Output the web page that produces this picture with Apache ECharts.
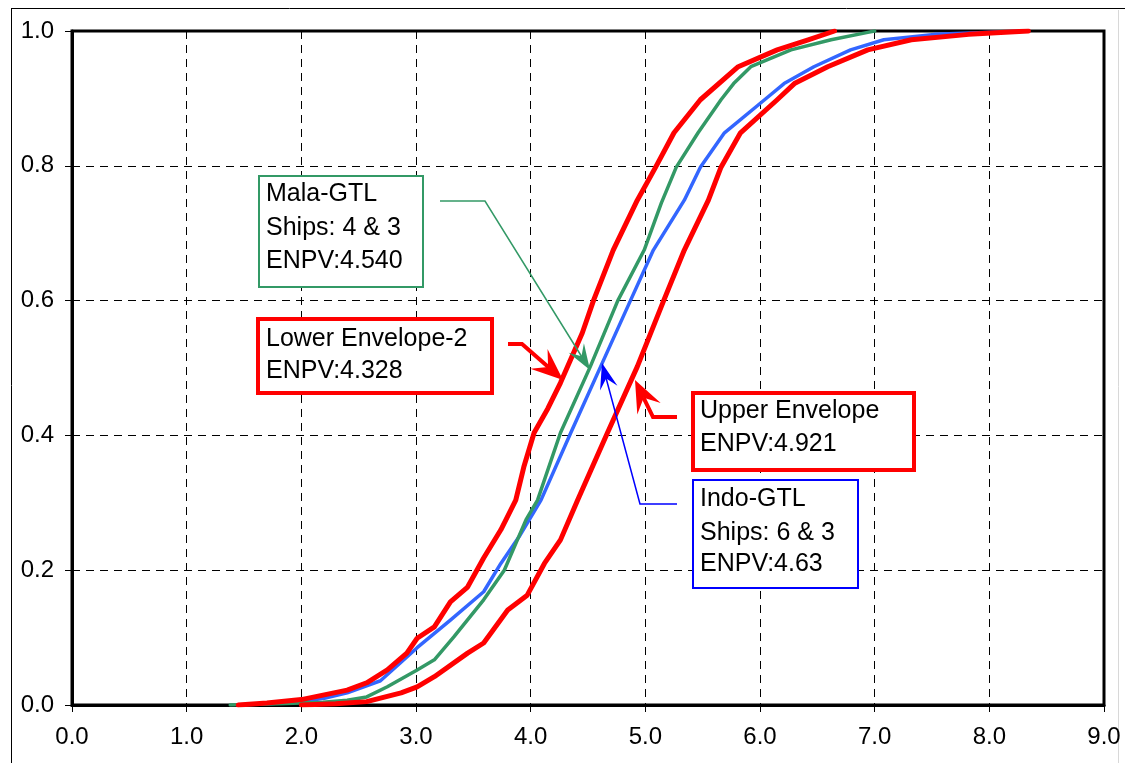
<!DOCTYPE html>
<html>
<head>
<meta charset="utf-8">
<script src="https://cdn.jsdelivr.net/npm/echarts@6/dist/echarts.min.js"></script>
<style>
html,body{margin:0;padding:0;background:#fff;}
#chart{width:1125px;height:763px;}
</style>
</head>
<body>
<div id="chart"></div>
<script>
// ---------- data ----------
const xTickLabels = ['0.0','1.0','2.0','3.0','4.0','5.0','6.0','7.0','8.0','9.0'];
const yTickLabels = ['0.0','0.2','0.4','0.6','0.8','1.0'];

const lowerX = [1.45,1.7,2.0,2.2,2.4,2.57,2.75,2.92,3.01,3.16,3.30,3.45,3.59,3.74,3.87,3.94,4.03,4.15,4.26,4.45,4.55,4.72,4.93,5.09,5.25,5.48,5.81,6.15,6.42,6.65];
const lowerY = [0,0.003,0.008,0.015,0.022,0.033,0.052,0.077,0.099,0.116,0.153,0.175,0.218,0.26,0.304,0.353,0.404,0.44,0.478,0.552,0.601,0.675,0.749,0.798,0.849,0.898,0.947,0.972,0.987,1.0];

const malaX = [1.38,1.8,2.19,2.4,2.57,2.75,3.01,3.16,3.33,3.59,3.77,3.96,4.06,4.26,4.52,4.76,4.99,5.14,5.27,5.46,5.66,5.77,5.92,6.27,6.62,6.94,7.0];
const malaY = [0,0.002,0.004,0.007,0.012,0.027,0.052,0.067,0.101,0.156,0.2,0.275,0.304,0.404,0.502,0.6,0.675,0.745,0.798,0.849,0.898,0.922,0.947,0.972,0.987,0.998,1.0];

const indoX = [1.45,1.7,2.0,2.2,2.4,2.69,2.86,3.01,3.30,3.59,3.74,3.9,4.09,4.35,4.61,4.87,5.07,5.34,5.48,5.69,6.04,6.21,6.47,6.79,7.08,7.52,8.34];
const indoY = [0,0.002,0.005,0.01,0.018,0.036,0.062,0.085,0.126,0.168,0.21,0.25,0.304,0.404,0.502,0.6,0.675,0.749,0.798,0.849,0.898,0.922,0.947,0.972,0.987,0.995,1.0];

const upperX = [2.0,2.3,2.57,2.87,3.01,3.16,3.45,3.59,3.80,3.97,4.12,4.26,4.41,4.67,4.93,5.16,5.34,5.55,5.66,5.83,6.15,6.30,6.59,6.94,7.32,7.82,8.34];
const upperY = [0,0.002,0.005,0.018,0.027,0.042,0.077,0.092,0.141,0.163,0.21,0.245,0.304,0.404,0.502,0.6,0.675,0.749,0.798,0.849,0.898,0.922,0.947,0.972,0.987,0.995,1.0];

const malaLabel = ['Mala-GTL','Ships: 4 & 3','ENPV:4.540'];
const lowerLabel = ['Lower Envelope-2','ENPV:4.328'];
const upperLabel = ['Upper Envelope','ENPV:4.921'];
const indoLabel = ['Indo-GTL','Ships: 6 & 3','ENPV:4.63'];

// ---------- chart ----------
const zip = (xs, ys) => xs.map((x, i) => [x, ys[i]]);
const FONT = '"Liberation Sans", Arial, sans-serif';
const RED = '#ff0000', GREEN = '#339966', BLUE = '#3366ff', ABLUE = '#0000ff';

const chart = echarts.init(document.getElementById('chart'), null, {renderer: 'canvas'});

function lineSeries(name, data, color, width) {
  return {
    name, type: 'line', data, showSymbol: false, symbol: 'none',
    smooth: false,
    lineStyle: {color, width, join: 'round', cap: 'round'}, animation: false
  };
}

function arrowHead(from, tip, len, w, color) {
  const dx = tip[0] - from[0], dy = tip[1] - from[1];
  const d = Math.hypot(dx, dy);
  const ux = dx / d, uy = dy / d, px = -uy, py = ux;
  const bx = tip[0] - ux * len, by = tip[1] - uy * len;
  const nx = tip[0] - ux * len * 0.62, ny = tip[1] - uy * len * 0.62;
  return {
    type: 'polygon', z: 100,
    shape: {points: [tip, [bx + px * w, by + py * w], [nx, ny], [bx - px * w, by - py * w]]},
    style: {fill: color, stroke: null}
  };
}
function arrow(points, color, width, len, w) {
  const n = points.length;
  const tip = points[n - 1], prev = points[n - 2];
  const dx = tip[0] - prev[0], dy = tip[1] - prev[1], d = Math.hypot(dx, dy);
  const end = [tip[0] - dx / d * len * 0.6, tip[1] - dy / d * len * 0.6];
  const pts = points.slice(0, n - 1).concat([end]);
  return [
    {type: 'polyline', z: 100, shape: {points: pts}, style: {stroke: color, lineWidth: width, fill: null}},
    arrowHead(prev, tip, len, w, color)
  ];
}
function box(x, y, w, h, color, bw, lines, tx, centers) {
  const els = [{type: 'rect', z: 100, shape: {x, y, width: w, height: h},
    style: {fill: '#fff', stroke: color, lineWidth: bw}}];
  lines.forEach((t, i) => els.push({type: 'text', z: 101, x: tx, y: centers[i],
    style: {text: t, font: '25px ' + FONT, fill: '#000', textVerticalAlign: 'middle', verticalAlign: 'middle'}}));
  return els;
}

const graphics = [].concat(
  [{type: 'line', shape: {x1: 11, y1: 8.5, x2: 1125, y2: 8.5}, style: {stroke: '#000', lineWidth: 1}},
   {type: 'line', shape: {x1: 11.5, y1: 8, x2: 11.5, y2: 763}, style: {stroke: '#000', lineWidth: 1}},
   {type: 'line', shape: {x1: 1118.5, y1: 10, x2: 1118.5, y2: 763}, style: {stroke: '#d8d8d8', lineWidth: 1}}],
  arrow([[440, 201], [485, 201], [590, 370]], GREEN, 1.5, 26, 9),
  arrow([[508, 344], [522, 344], [563, 380]], RED, 4, 32, 13),
  arrow([[677, 504], [640, 504], [602, 363]], ABLUE, 1.5, 26, 9),
  arrow([[677, 417], [653, 417], [635, 380]], RED, 4, 32, 13),
  box(259, 176, 164, 111, GREEN, 2, malaLabel, 266, [194, 228, 261]),
  box(258, 319, 234, 74, RED, 4, lowerLabel, 266, [339, 371]),
  box(693, 393, 221, 77, RED, 4, upperLabel, 700, [411, 444]),
  box(693, 480, 165, 108, ABLUE, 2, indoLabel, 700, [499, 533, 564])
);

chart.setOption({
  animation: false,
  backgroundColor: '#fff',
  grid: {left: 72, right: 21, top: 31, bottom: 58, containLabel: false, outerBoundsMode: 'none',
    show: true, borderColor: '#000', borderWidth: 3, backgroundColor: 'transparent'},
  xAxis: {
    type: 'value', min: 0, max: 9, interval: 1,
    axisLine: {show: true, onZero: false, lineStyle: {color: '#000', width: 3}},
    axisTick: {show: true, length: 7, lineStyle: {color: '#000', width: 1}},
    axisLabel: {color: '#000', fontSize: 24, fontFamily: FONT, margin: 20,
      formatter: (v) => xTickLabels[Math.round(v)]},
    splitLine: {show: true, lineStyle: {color: '#000', width: 1, type: [8, 6]}}
  },
  yAxis: {
    type: 'value', min: 0, max: 1, interval: 0.2,
    axisLine: {show: true, onZero: false, lineStyle: {color: '#000', width: 3}},
    axisTick: {show: true, length: 7, lineStyle: {color: '#000', width: 1}},
    axisLabel: {color: '#000', fontSize: 24, fontFamily: FONT, margin: 18,
      formatter: (v) => yTickLabels[Math.round(v * 5)]},
    splitLine: {show: true, lineStyle: {color: '#000', width: 1, type: [8, 6]}}
  },
  series: [
    lineSeries('Indo-GTL', zip(indoX, indoY), BLUE, 3.5),
    lineSeries('Mala-GTL', zip(malaX, malaY), GREEN, 3.5),
    lineSeries('Upper Envelope', zip(upperX, upperY), RED, 5),
    lineSeries('Lower Envelope-2', zip(lowerX, lowerY), RED, 5)
  ],
  graphic: graphics
});
</script>
</body>
</html>
